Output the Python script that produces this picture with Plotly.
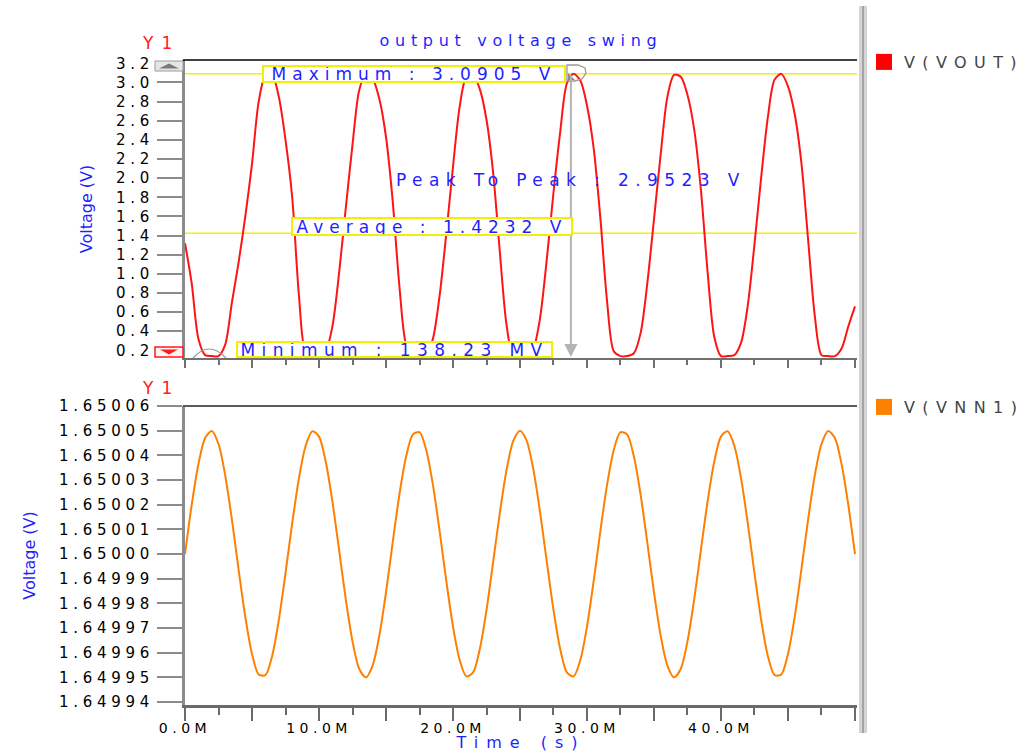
import plotly.graph_objects as go

# ---------------- data ----------------
time_ms = [round(0.5 * i, 1) for i in range(101)]   # 0 .. 50 ms sampling grid

v_vout = [1.32, 0.90, 0.32, 0.15, 0.14, 0.14, 0.26, 0.70, 1.12, 1.60,
          2.15, 2.80, 3.07, 3.08, 2.85, 2.40, 1.80, 0.78, 0.18, 0.14,
          0.14, 0.19, 0.45, 1.01, 1.69, 2.35, 2.92, 3.09, 3.04, 2.83,
          2.43, 1.76, 0.87, 0.26, 0.14, 0.14, 0.15, 0.32, 0.77, 1.42,
          2.12, 2.75, 3.06, 3.08, 2.93, 2.61, 2.05, 1.22, 0.46, 0.14,
          0.14, 0.14, 0.22, 0.54, 1.15, 1.85, 2.48, 2.99, 3.09, 3.02,
          2.76, 2.31, 1.58, 0.71, 0.19, 0.14, 0.14, 0.17, 0.38, 0.90,
          1.57, 2.25, 2.85, 3.08, 3.06, 2.87, 2.51, 1.88, 1.02, 0.34,
          0.14, 0.14, 0.15, 0.28, 0.67, 1.31, 2.01, 2.64, 3.03, 3.09,
          2.96, 2.67, 2.16, 1.36, 0.56, 0.15, 0.14, 0.14, 0.22, 0.45,
          0.66]

v_vnn1 = [1.6500000, 1.6500199, 1.6500364, 1.6500470, 1.6500499, 1.6500446, 1.6500319,
          1.6500139, 1.6499937, 1.6499745, 1.6499595, 1.6499512, 1.6499509, 1.6499586,
          1.6499732, 1.6499922, 1.6500124, 1.6500306, 1.6500438, 1.6500498, 1.6500476,
          1.6500375, 1.6500213, 1.6500016, 1.6499816, 1.6499646, 1.6499535, 1.6499500,
          1.6499548, 1.6499669, 1.6499845, 1.6500047, 1.6500241, 1.6500395, 1.6500484,
          1.6500494, 1.6500422, 1.6500281, 1.6500094, 1.6499891, 1.6499706, 1.6499570,
          1.6499504, 1.6499520, 1.6499615, 1.6499773, 1.6499969, 1.6500169, 1.6500342,
          1.6500459, 1.6500500,
          1.6500459, 1.6500342, 1.6500169, 1.6499969, 1.6499773, 1.6499615, 1.6499520,
          1.6499504, 1.6499570, 1.6499706, 1.6499891, 1.6500094, 1.6500281, 1.6500422,
          1.6500494, 1.6500484, 1.6500395, 1.6500241, 1.6500047, 1.6499845, 1.6499669,
          1.6499548, 1.6499500, 1.6499535, 1.6499646, 1.6499816, 1.6500016, 1.6500213,
          1.6500375, 1.6500476, 1.6500498, 1.6500438, 1.6500306, 1.6500124, 1.6499922,
          1.6499732, 1.6499586, 1.6499509, 1.6499512, 1.6499595, 1.6499745, 1.6499937,
          1.6500139, 1.6500319, 1.6500446, 1.6500499, 1.6500470, 1.6500364, 1.6500199,
          1.6500000]

vout_ticks = [0.2, 0.4, 0.6, 0.8, 1.0, 1.2, 1.4, 1.6, 1.8, 2.0, 2.2, 2.4, 2.6, 2.8, 3.0, 3.2]
vout_ticklabels = ["0.2", "0.4", "0.6", "0.8", "1.0", "1.2", "1.4", "1.6", "1.8", "2.0",
                   "2.2", "2.4", "2.6", "2.8", "3.0", "3.2"]
vnn1_ticks = [1.64994, 1.64995, 1.64996, 1.64997, 1.64998, 1.64999, 1.65000,
              1.65001, 1.65002, 1.65003, 1.65004, 1.65005, 1.65006]
vnn1_ticklabels = ["1.64994", "1.64995", "1.64996", "1.64997", "1.64998", "1.64999", "1.65000",
                   "1.65001", "1.65002", "1.65003", "1.65004", "1.65005", "1.65006"]
time_ticks = [0, 5, 10, 15, 20, 25, 30, 35, 40, 45, 50]
time_ticklabels = ["0.0M", "", "10.0M", "", "20.0M", "", "30.0M", "", "40.0M", "", ""]

v_max = 3.0905
v_avg = 1.4232
v_min_mv = 138.23
v_pp = 2.9523
cursor_t = 28.8

# ---------------- helpers ----------------
W, H = 1031, 752
FONT = "DejaVu Sans"
BLUE = "#1f1fff"


def px(x):
    return x / W


def py(y):
    return 1 - y / H


def spaced(s, ls):
    return f'<span style="letter-spacing:{ls}px">{s}</span>'


def pth(points, close=True):
    s = "M " + " L ".join(f"{px(x):.5f},{py(y):.5f}" for x, y in points)
    return s + (" Z" if close else "")


fig = go.Figure()

fig.add_trace(go.Scatter(x=time_ms, y=v_vout, mode="lines", xaxis="x", yaxis="y",
                         line=dict(color="#ff1414", width=2, shape="spline", smoothing=0.8),
                         showlegend=False, name="V(VOUT)"))
fig.add_trace(go.Scatter(x=time_ms, y=v_vnn1, mode="lines", xaxis="x2", yaxis="y2",
                         line=dict(color="#ff8000", width=2, shape="spline", smoothing=0.8),
                         showlegend=False, name="V(VNN1)"))
# legend entries (square swatches)
fig.add_trace(go.Scatter(x=[None], y=[None], mode="markers", xaxis="x", yaxis="y",
                         marker=dict(symbol="square", size=16, color="#ff0000"),
                         name=spaced("V(VOUT)", 7.4), legend="legend"))
fig.add_trace(go.Scatter(x=[None], y=[None], mode="markers", xaxis="x2", yaxis="y2",
                         marker=dict(symbol="square", size=16, color="#ff8000"),
                         name=spaced("V(VNN1)", 7.4), legend="legend2"))

tickfont = dict(family=FONT, size=15, color="#000000")
xdom = [px(185), px(857)]
xr = [0, 50.15]
common_x = dict(domain=xdom, range=xr, showgrid=False, zeroline=False, showline=True,
                ticks="outside", tickmode="array", tickvals=time_ticks, tickwidth=2,
                fixedrange=True, automargin=False)

fig.update_layout(
    width=W, height=H, autosize=False,
    margin=dict(l=0, r=0, t=0, b=0, autoexpand=False),
    paper_bgcolor="white", plot_bgcolor="white",
    title=dict(text=spaced("output voltage swing", 5.7), x=px(521), y=py(40),
               xref="paper", yref="paper", xanchor="center", yanchor="middle", automargin=False,
               font=dict(family=FONT, size=16, color=BLUE)),
    xaxis=dict(**common_x, anchor="y", linecolor="#707070", linewidth=2,
               ticklen=8, tickcolor="#707070", showticklabels=False,
               minor=dict(ticks="outside", ticklen=5, tickwidth=2, tickcolor="#707070",
                          tick0=0, dtick=2.5, showgrid=False)),
    xaxis2=dict(**common_x, anchor="y2", linecolor="#6a6a6a", linewidth=3,
                ticklen=13, tickcolor="#6a6a6a", ticklabelstandoff=-5,
                ticktext=[spaced(t, 4.5) for t in time_ticklabels],
                tickfont=dict(family=FONT, size=14, color="#000000"),
                minor=dict(ticks="outside", ticklen=7, tickwidth=2, tickcolor="#6a6a6a",
                           tick0=0, dtick=2.5, showgrid=False),
                title=dict(text=spaced("Time (s)", 8), standoff=5,
                           font=dict(family=FONT, size=16, color=BLUE))),
    yaxis=dict(domain=[py(358), py(60)], range=[0.12, 3.235], anchor="x", automargin=False,
               showgrid=False, zeroline=False, showline=True, linecolor="#8c8c8c", linewidth=3,
               ticks="outside", ticklen=25, tickwidth=2, tickcolor="#8c8c8c",
               tickmode="array", tickvals=vout_ticks,
               ticktext=[spaced(t, 4.7) for t in vout_ticklabels], tickfont=tickfont,
               ticklabelstandoff=0, fixedrange=True,
               title=dict(text="Voltage (V)", standoff=20,
                          font=dict(family=FONT, size=16, color=BLUE))),
    yaxis2=dict(domain=[py(705), py(406)], range=[1.6499388, 1.65006], anchor="x2", automargin=False,
                showgrid=False, zeroline=False, showline=True, linecolor="#8c8c8c", linewidth=3,
                ticks="outside", ticklen=25, tickwidth=2, tickcolor="#8c8c8c",
                tickmode="array", tickvals=vnn1_ticks,
                ticktext=[spaced(t, 4.7) for t in vnn1_ticklabels], tickfont=tickfont,
                ticklabelstandoff=0, fixedrange=True,
                title=dict(text="Voltage (V)", standoff=20,
                           font=dict(family=FONT, size=16, color=BLUE))),
    legend=dict(x=px(864), y=py(45), xanchor="left", yanchor="top",
                bgcolor="rgba(0,0,0,0)", borderwidth=0,
                font=dict(family=FONT, size=16, color="#444444")),
    legend2=dict(x=px(864), y=py(390), xanchor="left", yanchor="top",
                 bgcolor="rgba(0,0,0,0)", borderwidth=0,
                 font=dict(family=FONT, size=16, color="#444444")),
)

shapes = []
# yellow measurement lines (under the trace)
for val in (v_max, v_avg):
    shapes.append(dict(type="line", xref="paper", yref="y", x0=px(184), x1=px(857),
                       y0=val, y1=val, line=dict(color="#f2f200", width=1.5), layer="below"))
# plot top borders
shapes.append(dict(type="line", xref="paper", yref="paper", x0=px(183), x1=px(857),
                   y0=py(60), y1=py(60), line=dict(color="#000000", width=1.5)))
shapes.append(dict(type="line", xref="paper", yref="paper", x0=px(183), x1=px(857),
                   y0=py(406), y1=py(406), line=dict(color="#5a5a5a", width=2)))
# separator bar
shapes.append(dict(type="rect", xref="paper", yref="paper", x0=px(859), x1=px(867),
                   y0=py(733), y1=py(6), fillcolor="#d4d4d4", line=dict(width=0)))
shapes.append(dict(type="line", xref="paper", yref="paper", x0=px(863), x1=px(863),
                   y0=py(733), y1=py(6), line=dict(color="#a4a4a4", width=2)))
# scroll buttons on the upper axis
shapes.append(dict(type="rect", xref="paper", yref="paper", x0=px(155), x1=px(183),
                   y0=py(71), y1=py(61), fillcolor="#e6e6e6", line=dict(color="#9a9a9a", width=1)))
shapes.append(dict(type="path", xref="paper", yref="paper",
                   path=pth([(159, 68.5), (179, 68.5), (169, 63.5)]),
                   fillcolor="#7a7a7a", line=dict(width=0)))
shapes.append(dict(type="rect", xref="paper", yref="paper", x0=px(155), x1=px(183),
                   y0=py(357), y1=py(347), fillcolor="#fff4f4", line=dict(color="#ff1a1a", width=1.5)))
shapes.append(dict(type="path", xref="paper", yref="paper",
                   path=pth([(160, 349.5), (178, 349.5), (169, 354.5)]),
                   fillcolor="#ff1a1a", line=dict(width=0)))
# cursor glyphs
shapes.append(dict(type="path", xref="paper", yref="paper",
                   path="M %.5f,%.5f Q %.5f,%.5f %.5f,%.5f" % (px(193), py(358), px(209), py(340), px(226), py(358)),
                   line=dict(color="#9a9a9a", width=1.2)))
shapes.append(dict(type="path", xref="paper", yref="paper",
                   path=pth([(567, 65), (578, 65), (585, 68), (586, 73), (582, 79), (575, 81), (567, 81)]),
                   line=dict(color="#9a9a9a", width=1.3)))
shapes.append(dict(type="path", xref="paper", yref="paper",
                   path=pth([(568, 80), (575, 80), (568, 73)]),
                   fillcolor="#8a8a8a", line=dict(width=0)))
fig.update_layout(shapes=shapes)

ann = []
# Y1 labels
for yy in (43, 388):
    ann.append(dict(x=px(161), y=py(yy), xref="paper", yref="paper", showarrow=False,
                    text=spaced("Y1", 8), font=dict(family=FONT, size=17, color="#ff2020"),
                    xanchor="center", yanchor="middle"))
# peak-to-peak arrow
ann.append(dict(x=cursor_t, y=0.13, ax=cursor_t, ay=v_max, xref="x", yref="y",
                axref="x", ayref="y", text="", showarrow=True, arrowhead=2,
                arrowsize=1.3, arrowwidth=2, arrowcolor="#b4b4b4"))
ann.append(dict(x=px(571), y=py(180), xref="paper", yref="paper", showarrow=False,
                text=spaced(f"Peak To Peak : {v_pp:.4f} V", 6.4),
                font=dict(family=FONT, size=17, color=BLUE), xanchor="center", yanchor="middle"))


def box(text, cx, cy, w, h, ls):
    return dict(x=px(cx), y=py(cy), xref="paper", yref="paper", showarrow=False,
                text=spaced(text, ls), font=dict(family=FONT, size=17, color=BLUE),
                xanchor="center", yanchor="middle", bgcolor="white",
                bordercolor="#f0f000", borderwidth=2, borderpad=0, width=w, height=h)


ann.append(box(f"Maximum : {v_max:.4f} V", 414, 74, 300, 14, 6.0))
ann.append(box(f"Average : {v_avg:.4f} V", 432, 226.5, 278, 15, 6.0))
ann.append(box(f"Minimum : {v_min_mv:.2f} MV", 394.5, 349.5, 313, 13, 6.4))
fig.update_layout(annotations=ann)

fig.write_html("out.html", config={"displayModeBar": False})
